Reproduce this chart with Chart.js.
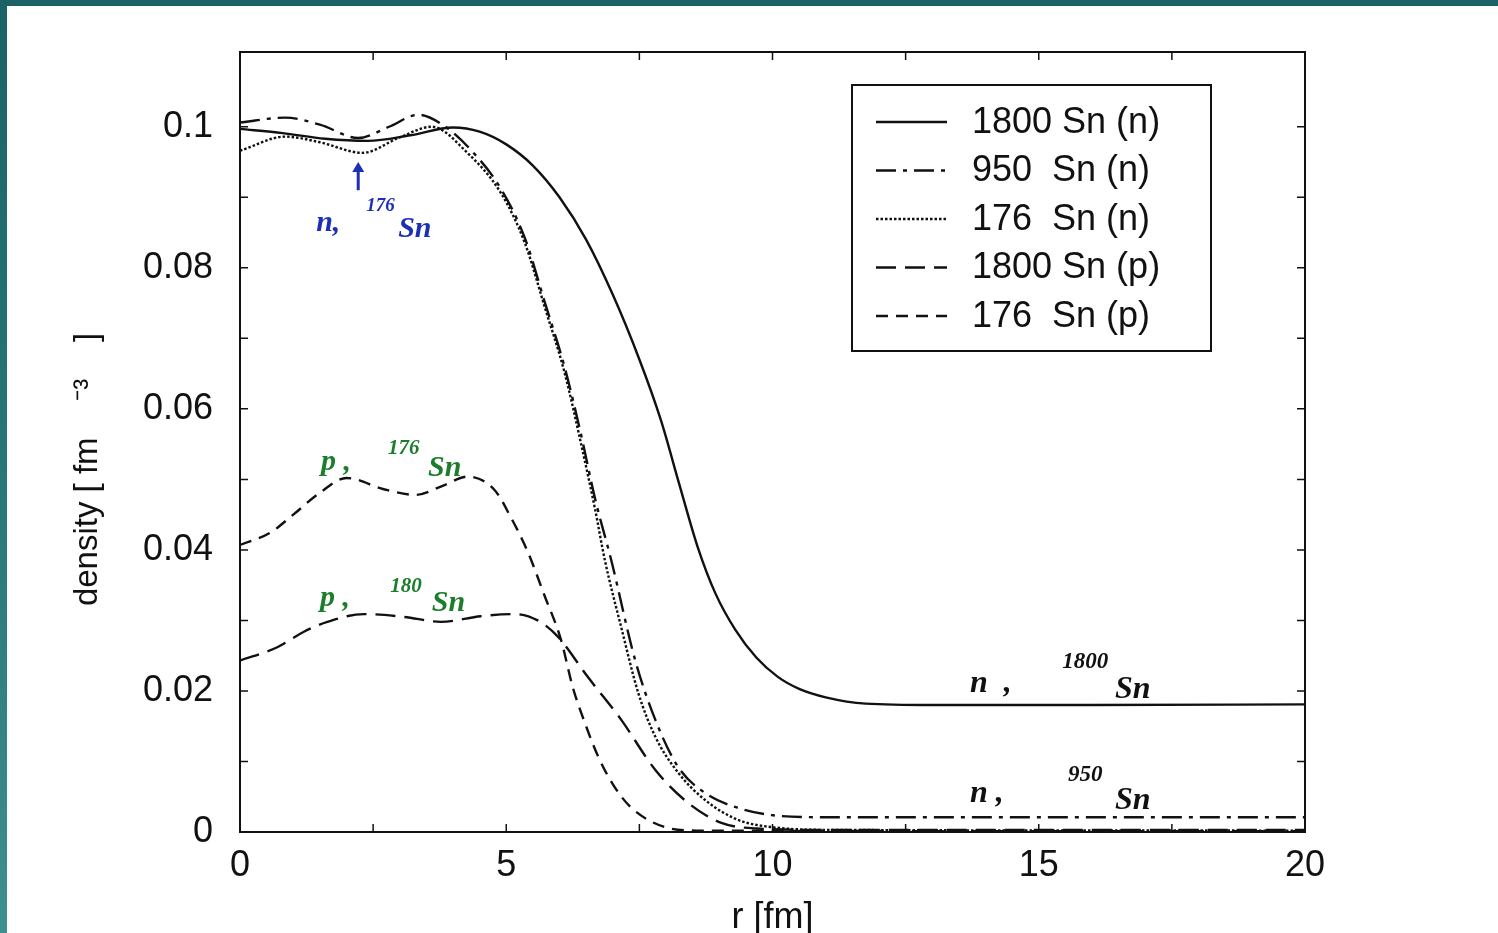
<!DOCTYPE html>
<html>
<head>
<meta charset="utf-8">
<script src="https://cdn.jsdelivr.net/npm/chart.js@4.4.1/dist/chart.umd.min.js"></script>
<style>
  html, body { margin: 0; padding: 0; }
  body {
    width: 1498px; height: 933px; overflow: hidden; position: relative;
    background: linear-gradient(180deg, #1a6265 0%, #2a7879 55%, #3e8f90 100%);
  }
  #paper { position: absolute; left: 7px; top: 6px; right: 0; bottom: 0; background: #fff; }
  #wrap { position: absolute; left: 0; top: 0; width: 1498px; height: 933px; }
</style>
</head>
<body>
<div id="paper"></div>
<div id="wrap"><canvas id="densityChart"></canvas></div>
<script>
// radial density profiles, r in fm, rho in fm^-3
var r1800n = [0, 0.8, 1.6, 2.4, 3.2, 4.0, 4.5, 5.0, 5.5, 6.0, 6.5, 7.0, 7.5, 7.9, 8.25, 8.6, 8.93, 9.3, 9.7, 10.1, 10.5, 11.0, 11.75, 13, 16, 20];
var rho1800n = [.0997, .0991, .0983, .0980, .0988, .0999, .0993, .0975, .0945, .0900, .0840, .0762, .0670, .0585, .0493, .0403, .0338, .0287, .0247, .0220, .0203, .0191, .0182, .0180, .0180, .0181];

var r950n = [0, 0.85, 1.5, 2.22, 2.8, 3.35, 3.8, 4.3, 4.9, 5.35, 5.72, 6.1, 6.4, 6.67, 6.97, 7.42, 7.8, 8.23, 8.74, 9.36, 9.98, 10.87, 12, 20];
var rho950n = [.1006, .1013, .1003, .0984, .1000, .1017, .1003, .0970, .0912, .0842, .0752, .0658, .0565, .0472, .0386, .0244, .0159, .0092, .0055, .0034, .0024, .0021, .0021, .0021];

var r176n = [0, 0.85, 1.5, 2.3, 3.0, 3.6, 4.27, 4.9, 5.35, 5.72, 6.1, 6.4, 6.67, 6.85, 7.16, 7.48, 7.8, 8.23, 8.74, 9.36, 9.98, 11, 20];
var rho176n = [.0966, .0986, .0978, .0963, .0985, .1000, .0963, .0906, .0835, .0745, .0650, .0552, .0457, .0386, .0290, .0197, .0135, .0084, .0045, .0017, .0007, .0003, .0002];

var r1800p = [0, 0.7, 1.2, 1.64, 2.33, 3.08, 3.77, 4.52, 5.16, 5.59, 5.97, 6.53, 7.16, 7.8, 8.42, 9.04, 9.7, 11, 20];
var rho1800p = [.0243, .0262, .0284, .0298, .0309, .0305, .0298, .0306, .0309, .0300, .0277, .0220, .0159, .0088, .0041, .0013, .0005, .0003, .0003];

var r176p = [0, 0.56, 1.0, 1.5, 2.0, 2.7, 3.3, 3.84, 4.27, 4.78, 5.08, 5.4, 5.72, 6.03, 6.25, 6.5, 6.72, 7.0, 7.34, 7.98, 8.6, 20];
var rho176p = [.0407, .0424, .0450, .0481, .0502, .0486, .0478, .0492, .0504, .0485, .0447, .0398, .0335, .0272, .0205, .0150, .0108, .0068, .0035, .0007, .0002, .0001];

var seriesLabels = ['1800 Sn (n)', '950  Sn (n)', '176  Sn (n)', '1800 Sn (p)', '176  Sn (p)'];

// hand-written notes on the scan (anchored in data units)
var notes = [
  { text: 'n,', r: 1.43, v: 0.0852, size: 30, color: '#1d2fb5' },
  { text: '176', r: 2.37, v: 0.0880, size: 19, color: '#1d2fb5' },
  { text: 'Sn', r: 2.97, v: 0.0844, size: 30, color: '#1d2fb5' },
  { text: 'p ,', r: 1.52, v: 0.0513, size: 30, color: '#1c7d2c' },
  { text: '176', r: 2.78, v: 0.0536, size: 21, color: '#1c7d2c' },
  { text: 'Sn', r: 3.53, v: 0.0505, size: 30, color: '#1c7d2c' },
  { text: 'p ,', r: 1.50, v: 0.0320, size: 30, color: '#1c7d2c' },
  { text: '180', r: 2.82, v: 0.0340, size: 21, color: '#1c7d2c' },
  { text: 'Sn', r: 3.60, v: 0.0314, size: 30, color: '#1c7d2c' },
  { text: 'n  ,', r: 13.71, v: 0.0198, size: 32, color: '#111' },
  { text: '1800', r: 15.44, v: 0.0233, size: 23, color: '#111' },
  { text: 'Sn', r: 16.43, v: 0.0190, size: 32, color: '#111' },
  { text: 'n ,', r: 13.71, v: 0.0042, size: 32, color: '#111' },
  { text: '950', r: 15.55, v: 0.0072, size: 23, color: '#111' },
  { text: 'Sn', r: 16.43, v: 0.0033, size: 32, color: '#111' }
];
var arrowR = 2.22, arrowFrom = 0.0910, arrowTo = 0.0950;

function pts(xs, ys) {
  return xs.map(function (x, i) { return { x: x, y: ys[i] }; });
}

function line(label, xs, ys, dash) {
  return {
    label: label,
    data: pts(xs, ys),
    borderColor: '#111',
    borderWidth: 2.4,
    borderDash: dash,
    pointRadius: 0,
    fill: false,
    cubicInterpolationMode: 'monotone'
  };
}

var tickFont = { family: '"Liberation Sans", Arial, sans-serif', size: 36 };

// frame with inward ticks on all four sides
var frameTicks = {
  id: 'frameTicks',
  afterDraw: function (chart) {
    var ctx = chart.ctx, a = chart.chartArea;
    var xs = chart.scales.x, ys = chart.scales.y, len = 8;
    ctx.save();
    ctx.strokeStyle = '#111';
    ctx.lineWidth = 2;
    ctx.strokeRect(a.left, a.top, a.right - a.left, a.bottom - a.top);
    ctx.lineWidth = 1.5;
    ctx.beginPath();
    ys.ticks.forEach(function (t) {
      if (t.value > 0.105) return;
      var y = ys.getPixelForValue(t.value);
      ctx.moveTo(a.left, y); ctx.lineTo(a.left + len, y);
      ctx.moveTo(a.right, y); ctx.lineTo(a.right - len, y);
    });
    xs.ticks.forEach(function (t) {
      var x = xs.getPixelForValue(t.value);
      ctx.moveTo(x, a.bottom); ctx.lineTo(x, a.bottom - len);
      ctx.moveTo(x, a.top); ctx.lineTo(x, a.top + len);
    });
    ctx.stroke();
    ctx.restore();
  }
};

// boxed legend in the upper right, as in the scan
var boxLegend = {
  id: 'boxLegend',
  afterDraw: function (chart) {
    var ctx = chart.ctx;
    var bx = 852, by = 85, bw = 359, bh = 266, row = 48.5;
    ctx.save();
    ctx.fillStyle = '#fff';
    ctx.fillRect(bx, by, bw, bh);
    ctx.strokeStyle = '#111';
    ctx.lineWidth = 2;
    ctx.strokeRect(bx, by, bw, bh);
    ctx.font = '36px "Liberation Sans", Arial, sans-serif';
    ctx.textBaseline = 'middle';
    ctx.fillStyle = '#111';
    chart.data.datasets.forEach(function (ds, i) {
      var y = by + 37 + i * row;
      ctx.beginPath();
      ctx.setLineDash(ds.borderDash || []);
      ctx.lineWidth = ds.borderWidth;
      ctx.moveTo(bx + 24, y);
      ctx.lineTo(bx + 95, y);
      ctx.stroke();
      ctx.setLineDash([]);
      ctx.fillText(ds.label, bx + 120, y + 1);
    });
    ctx.restore();
  }
};

// hand-written notes and the blue arrow
var scribbles = {
  id: 'scribbles',
  afterDraw: function (chart) {
    var ctx = chart.ctx, xs = chart.scales.x, ys = chart.scales.y;
    ctx.save();
    ctx.textBaseline = 'alphabetic';
    notes.forEach(function (n) {
      ctx.font = 'italic bold ' + n.size + 'px "Liberation Serif", "DejaVu Serif", serif';
      ctx.fillStyle = n.color;
      ctx.fillText(n.text, xs.getPixelForValue(n.r), ys.getPixelForValue(n.v));
    });
    var ax = xs.getPixelForValue(arrowR);
    var y0 = ys.getPixelForValue(arrowFrom), y1 = ys.getPixelForValue(arrowTo);
    ctx.strokeStyle = '#1d2fb5';
    ctx.fillStyle = '#1d2fb5';
    ctx.lineWidth = 3;
    ctx.beginPath();
    ctx.moveTo(ax, y0); ctx.lineTo(ax, y1 + 8);
    ctx.stroke();
    ctx.beginPath();
    ctx.moveTo(ax, y1); ctx.lineTo(ax - 6, y1 + 10); ctx.lineTo(ax + 6, y1 + 10);
    ctx.closePath();
    ctx.fill();
    ctx.restore();
  }
};

var ctx = document.getElementById('densityChart').getContext('2d');
var densityChart = new Chart(ctx, {
  type: 'line',
  data: {
    datasets: [
      line(seriesLabels[0], r1800n, rho1800n, []),
      line(seriesLabels[1], r950n, rho950n, [20, 7, 4, 7]),
      line(seriesLabels[2], r176n, rho176n, [2.5, 2]),
      line(seriesLabels[3], r1800p, rho1800p, [20, 9]),
      line(seriesLabels[4], r176p, rho176p, [12, 8])
    ]
  },
  options: {
    responsive: true,
    maintainAspectRatio: false,
    animation: false,
    devicePixelRatio: 1,
    layout: { padding: { left: 0, top: 52, right: 193, bottom: 0 } },
    plugins: {
      legend: { display: false },
      tooltip: { enabled: false }
    },
    scales: {
      x: {
        type: 'linear',
        min: 0,
        max: 20,
        grid: { display: false, drawTicks: false },
        border: { display: false },
        ticks: {
          stepSize: 2.5,
          autoSkip: false,
          maxRotation: 0,
          padding: 12,
          color: '#111',
          font: tickFont,
          callback: function (v) { return v % 5 === 0 ? String(v) : ''; }
        },
        title: {
          display: true,
          text: 'r [fm]',
          color: '#111',
          font: { family: '"Liberation Sans", Arial, sans-serif', size: 36, lineHeight: 1 },
          padding: { top: 0, bottom: -3 }
        },
        afterFit: function (s) { s.height = 101; }
      },
      y: {
        type: 'linear',
        min: 0,
        max: 0.1106,
        grid: { display: false, drawTicks: false },
        border: { display: false },
        ticks: {
          stepSize: 0.01,
          includeBounds: false,
          autoSkip: false,
          padding: 27,
          color: '#111',
          font: tickFont,
          callback: function (v) {
            var k = Math.round(v * 100);
            return (k % 2 === 0 && k <= 10) ? String(k / 100) : '';
          }
        },
        title: {
          display: true,
          text: 'density [ fm    \u207B\u00B3    ]      ',
          color: '#111',
          font: { family: '"Liberation Sans", Arial, sans-serif', size: 33, lineHeight: 1.2 },
          padding: { top: 68, bottom: 0 }
        },
        afterFit: function (s) { s.width = 240; }
      }
    }
  },
  plugins: [frameTicks, boxLegend, scribbles]
});
</script>
</body>
</html>
